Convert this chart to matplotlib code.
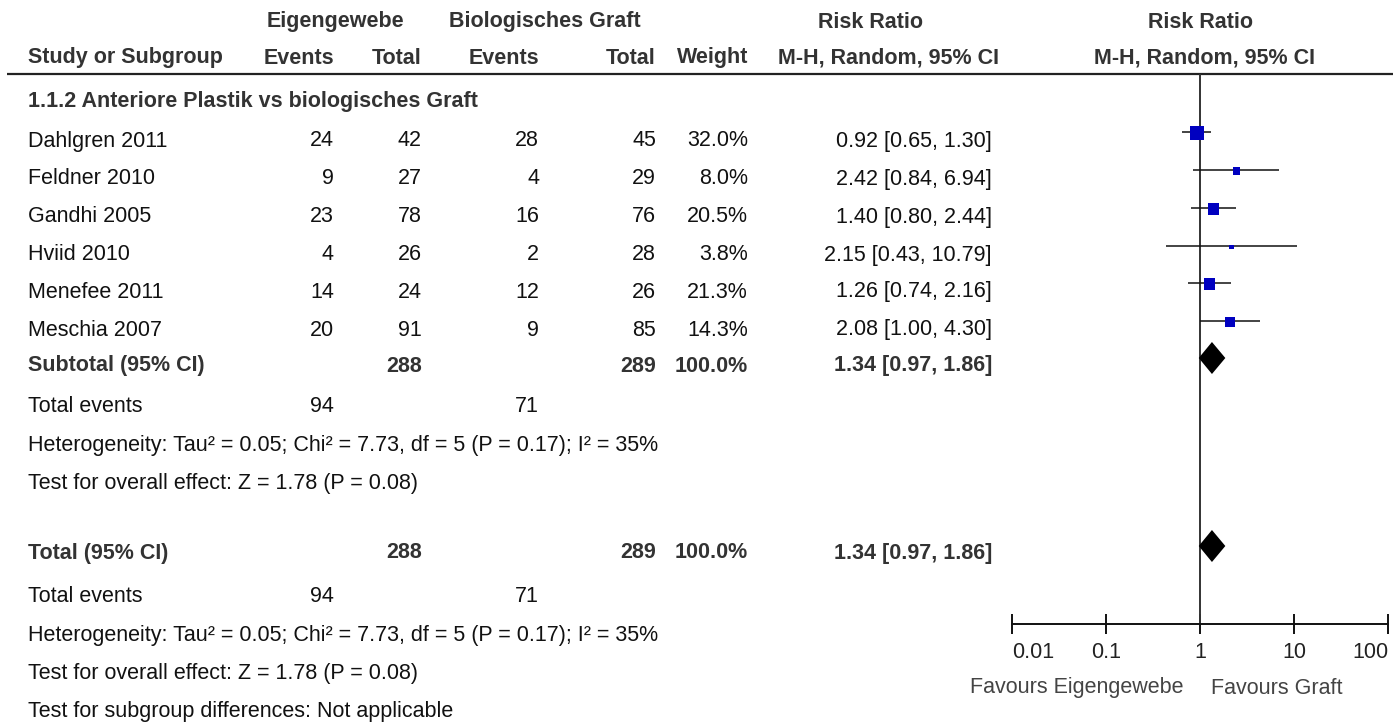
import matplotlib
matplotlib.use("Agg")
import matplotlib.pyplot as plt
from matplotlib.ticker import FixedLocator, FixedFormatter, NullLocator

# ---------------------------------------------------------------------------
# Data
# ---------------------------------------------------------------------------
studies = ["Dahlgren 2011", "Feldner 2010", "Gandhi 2005", "Hviid 2010",
           "Menefee 2011", "Meschia 2007"]
ev_eigen = [24, 9, 23, 4, 14, 20]
tot_eigen = [42, 27, 78, 26, 24, 91]
ev_graft = [28, 4, 16, 2, 12, 9]
tot_graft = [45, 29, 76, 28, 26, 85]
weights = [32.0, 8.0, 20.5, 3.8, 21.3, 14.3]
rr = [0.92, 2.42, 1.40, 2.15, 1.26, 2.08]
ci_low = [0.65, 0.84, 0.80, 0.43, 0.74, 1.00]
ci_high = [1.30, 6.94, 2.44, 10.79, 2.16, 4.30]

pooled_rr = 1.34
pooled_low = 0.97
pooled_high = 1.86
pooled_weight = 100.0
sum_eigen = 288
sum_graft = 289
events_eigen = 94
events_graft = 71

subgroup_title = "1.1.2 Anteriore Plastik vs biologisches Graft"
heterogeneity = "Heterogeneity: Tau\u00b2 = 0.05; Chi\u00b2 = 7.73, df = 5 (P = 0.17); I\u00b2 = 35%"
overall_test = "Test for overall effect: Z = 1.78 (P = 0.08)"
subgroup_test = "Test for subgroup differences: Not applicable"

tick_values = [0.01, 0.1, 1, 10, 100]
tick_labels = ["0.01", "0.1", "1", "10", "100"]

# ---------------------------------------------------------------------------
# Layout (pixel canvas, y grows downwards)
# ---------------------------------------------------------------------------
W, H = 1393, 724
FS = 15.5
FONT = "Liberation Sans"
C_TXT = "#111111"
C_BOLD = "#333333"
C_BLUE = "#0000C0"

# column anchors (right aligned)
X_LEFT = 28
X_EV1, X_TOT1, X_EV2, X_TOT2, X_W, X_CI = 334, 422, 539, 656, 748, 992

Y_H1, Y_H2, Y_RULE = 22, 58, 74
Y_GROUP = 101
Y_ROWS = [141, 179, 217, 255, 292, 330]
Y_SUB = 366
Y_TE1, Y_HET1, Y_TEST1 = 407, 445, 483
Y_TOTAL = 553
Y_TE2, Y_HET2, Y_TEST2, Y_SUBTEST = 597, 635, 673, 711
MARK_OFF = -9.5        # graphics sit slightly above the text centre
Y_AXIS = 624

fig = plt.figure(figsize=(W / 100, H / 100), dpi=100)
fig.patch.set_facecolor("white")
ax = fig.add_axes([0, 0, 1, 1])
ax.set_xlim(0, W)
ax.set_ylim(H, 0)
ax.axis("off")


def txt(x, y, s, ha="left", bold=False, color=None):
    ax.text(x, y, s, ha=ha, va="center", family=FONT, fontsize=FS,
            fontweight="bold" if bold else "normal",
            color=color or (C_BOLD if bold else C_TXT))


# ---- Header -----------------------------------------------------------
txt(335, Y_H1, "Eigengewebe", ha="center", bold=True)
txt(545, Y_H1, "Biologisches Graft", ha="center", bold=True)
txt(871, Y_H1, "Risk Ratio", ha="center", bold=True)
txt(1201, Y_H1, "Risk Ratio", ha="center", bold=True)

txt(X_LEFT, Y_H2, "Study or Subgroup", bold=True)
txt(X_EV1, Y_H2, "Events", ha="right", bold=True)
txt(X_TOT1, Y_H2, "Total", ha="right", bold=True)
txt(X_EV2, Y_H2, "Events", ha="right", bold=True)
txt(X_TOT2, Y_H2, "Total", ha="right", bold=True)
txt(X_W, Y_H2, "Weight", ha="right", bold=True)
txt(889, Y_H2, "M-H, Random, 95% CI", ha="center", bold=True)
txt(1205, Y_H2, "M-H, Random, 95% CI", ha="center", bold=True)

ax.hlines(Y_RULE, 7, W, color="#222222", lw=1.6)

txt(X_LEFT, Y_GROUP, subgroup_title, bold=True)

# ---- Study rows -------------------------------------------------------
for i, name in enumerate(studies):
    y = Y_ROWS[i]
    txt(X_LEFT, y, name)
    txt(X_EV1, y, str(ev_eigen[i]), ha="right")
    txt(X_TOT1, y, str(tot_eigen[i]), ha="right")
    txt(X_EV2, y, str(ev_graft[i]), ha="right")
    txt(X_TOT2, y, str(tot_graft[i]), ha="right")
    txt(X_W, y, f"{weights[i]:.1f}%", ha="right")
    txt(X_CI, y, f"{rr[i]:.2f} [{ci_low[i]:.2f}, {ci_high[i]:.2f}]", ha="right")

pooled_str = f"{pooled_rr:.2f} [{pooled_low:.2f}, {pooled_high:.2f}]"
total_w = f"{pooled_weight:.1f}%"

txt(X_LEFT, Y_SUB, "Subtotal (95% CI)", bold=True)
txt(X_TOT1, Y_SUB, str(sum_eigen), ha="right", bold=True)
txt(X_TOT2, Y_SUB, str(sum_graft), ha="right", bold=True)
txt(X_W, Y_SUB, total_w, ha="right", bold=True)
txt(X_CI, Y_SUB, pooled_str, ha="right", bold=True)

for y_te, y_het, y_test in [(Y_TE1, Y_HET1, Y_TEST1), (Y_TE2, Y_HET2, Y_TEST2)]:
    txt(X_LEFT, y_te, "Total events")
    txt(X_EV1, y_te, str(events_eigen), ha="right")
    txt(X_EV2, y_te, str(events_graft), ha="right")
    txt(X_LEFT, y_het, heterogeneity)
    txt(X_LEFT, y_test, overall_test)

txt(X_LEFT, Y_TOTAL, "Total (95% CI)", bold=True)
txt(X_TOT1, Y_TOTAL, str(sum_eigen), ha="right", bold=True)
txt(X_TOT2, Y_TOTAL, str(sum_graft), ha="right", bold=True)
txt(X_W, Y_TOTAL, total_w, ha="right", bold=True)
txt(X_CI, Y_TOTAL, pooled_str, ha="right", bold=True)
txt(X_LEFT, Y_SUBTEST, subgroup_test)

# ---- Forest panel (log scale) -------------------------------------------
fx = fig.add_axes([1012 / W, 0, 376 / W, 1], facecolor="none")
fx.set_xscale("log")
fx.set_xlim(tick_values[0], tick_values[-1])
fx.set_ylim(H, 0)
for side in ["top", "left", "right"]:
    fx.spines[side].set_visible(False)
fx.spines["bottom"].set_position(("data", Y_AXIS))
fx.spines["bottom"].set_linewidth(1.4)
fx.spines["bottom"].set_color("#111111")
fx.yaxis.set_major_locator(NullLocator())
fx.xaxis.set_major_locator(FixedLocator(tick_values))
fx.xaxis.set_major_formatter(FixedFormatter(tick_labels))
fx.xaxis.set_minor_locator(NullLocator())
fx.tick_params(axis="x", direction="inout", length=14.4, width=1.4,
               color="#111111", pad=6, labelsize=FS, labelcolor="#222222")
for lab in fx.get_xticklabels():
    lab.set_fontfamily(FONT)
labs = fx.get_xticklabels()
labs[0].set_ha("left")
labs[-1].set_ha("right")

# line of no effect
fx.vlines(1, Y_RULE, Y_AXIS, color="#333333", lw=1.4, zorder=2)

ys = [y + MARK_OFF for y in Y_ROWS]
fx.hlines(ys, ci_low, ci_high, color="#111111", lw=1.1, zorder=3)
fx.scatter(rr, [y + 1.5 for y in ys], marker="s", s=[3.2 * w for w in weights],
           color=C_BLUE, linewidths=0, zorder=4)

for yc in [Y_SUB - 8, Y_TOTAL - 7]:
    fx.fill([pooled_low, pooled_rr, pooled_high, pooled_rr],
            [yc, yc - 16, yc, yc + 16], color="black", lw=0, zorder=4)

fx.text(0.67, 688, "Favours Eigengewebe", ha="right", va="center",
        family=FONT, fontsize=FS, color="#444444")
fx.text(1.3, 688, "Favours Graft", ha="left", va="center",
        family=FONT, fontsize=FS, color="#444444")

fig.savefig("out.png", dpi=100, facecolor="white")
